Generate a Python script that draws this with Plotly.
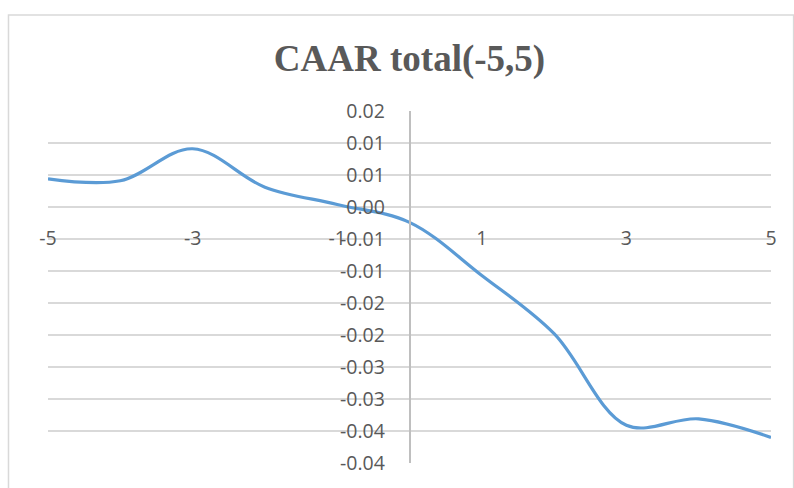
import plotly.graph_objects as go

# Event window (days relative to the event) and the cumulative average abnormal return
event_day = [-5, -4, -3, -2, -1, 0, 1, 2, 3, 4, 5]
caar = [0.0044, 0.0041, 0.0091, 0.0031, 0.0004, -0.0024,
        -0.0107, -0.0198, -0.0341, -0.0331, -0.0360]

x_tick_vals = [-5, -3, -1, 1, 3, 5]
x_tick_text = ["-5", "-3", "-1", "1", "3", "5"]

y_tick_vals = [0.015, 0.01, 0.005, 0.0, -0.005, -0.01, -0.015,
               -0.02, -0.025, -0.03, -0.035, -0.04]
y_tick_text = ["0.02", "0.01", "0.01", "0.00", "-0.01", "-0.01", "-0.02",
               "-0.02", "-0.03", "-0.03", "-0.04", "-0.04"]

W, H = 794, 488
ML, MR, MT, MB = 48, 23.3, 111, 23
Y_MIN, Y_MAX = -0.04, 0.015
plot_w = W - ML - MR
plot_h = H - MT - MB

GRID = "#D9D9D9"
TEXT = "#595959"
BLUE = "#5B9BD5"
LABEL_FONT = dict(family="'Open Sans', Lato, sans-serif", size=19.5, color=TEXT)


def px_to_paper_x(px):
    return (px - ML) / plot_w


def px_to_paper_y(py):
    return (H - MB - py) / plot_h


fig = go.Figure()
fig.add_trace(go.Scatter(
    x=event_day, y=caar, mode="lines",
    line=dict(color=BLUE, width=3.2, shape="spline", smoothing=1.0),
    showlegend=False, hoverinfo="skip",
))

fig.update_layout(
    width=W, height=H,
    margin=dict(l=ML, r=MR, t=MT, b=MB, pad=0),
    paper_bgcolor="white", plot_bgcolor="white",
    title=dict(
        text="<b>CAAR total(-5,5)</b>",
        font=dict(family="'Liberation Serif', 'Times New Roman', serif", size=37, color=TEXT),
        x=0.5, xref="paper", xanchor="center",
        y=1 - 58 / H, yref="container", yanchor="middle",
    ),
    xaxis=dict(
        range=[-5, 5], tickvals=x_tick_vals, ticktext=x_tick_text,
        showgrid=False, zeroline=False, showline=False, ticks="",
        anchor="free", position=(0 - Y_MIN) / (Y_MAX - Y_MIN),
        ticklabelstandoff=17, tickfont=LABEL_FONT,
    ),
    yaxis=dict(
        range=[Y_MIN, Y_MAX], tickvals=y_tick_vals, ticktext=y_tick_text,
        showgrid=True, gridcolor=GRID, gridwidth=1.5, zeroline=False,
        showline=True, linecolor="#BFBFBF", linewidth=1.5, ticks="",
        anchor="free", position=0.5,
        ticklabelstandoff=20, tickfont=LABEL_FONT,
    ),
    shapes=[dict(
        type="rect", xref="paper", yref="paper",
        x0=px_to_paper_x(8.5), x1=px_to_paper_x(793.3),
        y0=px_to_paper_y(492), y1=px_to_paper_y(14.5),
        line=dict(color=GRID, width=1.5), fillcolor="rgba(0,0,0,0)", layer="below",
    )],
)

fig.write_html("out.html")
